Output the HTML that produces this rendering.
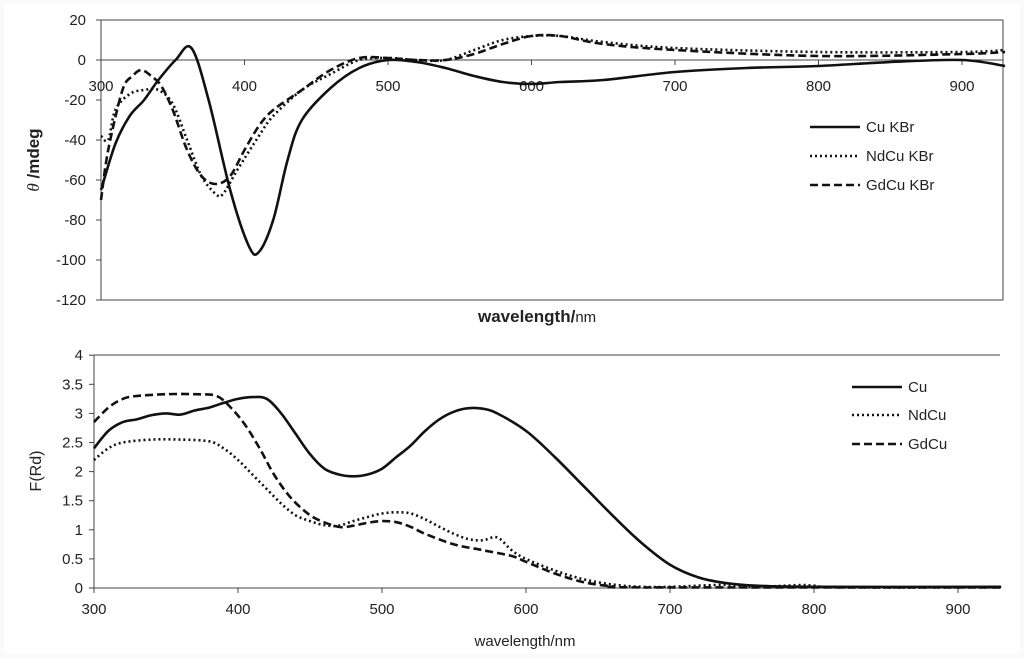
<!DOCTYPE html>
<html><head><meta charset="utf-8"><style>
body{margin:0;background:#fff;}
svg text{font-family:"Liberation Sans",Arial,sans-serif;fill:#222;}
</style></head><body>
<svg id="c" width="1024" height="658" viewBox="0 0 1024 658" xmlns="http://www.w3.org/2000/svg">
<rect x="0" y="0" width="1024" height="658" fill="#fafafa"/>
<rect x="4" y="4" width="1016" height="650" fill="#fff"/>
<g id="top"></g>
<g id="bot"></g>
</svg>
<script>
// ---- Top chart data (CD) ----
const cuX=[300,310,320,330,340,352,363,375,390,403,410,420,430,440,460,480,500,520,540,560,580,600,620,650,700,750,800,850,900,930];
const cuY=[-65,-42,-28,-20,-10,0,6,-20,-65,-93,-96,-80,-50,-30,-14,-4,0,-1,-4,-8,-11,-12,-11,-10,-6,-4,-3,-1,0,-3];
const ndX=[300,305,310,320,330,340,350,360,370,380,385,395,410,420,440,460,480,500,520,540,560,580,600,620,650,700,800,900,930];
const ndY=[-38,-40,-25,-17,-15,-15,-22,-40,-58,-67,-67,-55,-38,-28,-15,-7,0,1,0,0,5,10,12,12,9,6,4,4,5];
const gdX=[300,305,315,322,328,335,342,350,360,370,380,390,400,410,420,440,460,480,500,520,540,560,580,600,620,650,700,800,900,930];
const gdY=[-70,-45,-15,-8,-5,-8,-13,-25,-45,-58,-62,-58,-45,-33,-25,-15,-5,1,1,0,0,3,8,12,12,8,5,2,3,4];
const topYTicks=[20,0,-20,-40,-60,-80,-100,-120];
const topXTicks=[300,400,500,600,700,800,900];
// ---- Bottom chart data (F(Rd)) ----
const bCuX=[300,310,320,330,340,350,360,370,380,390,400,410,420,430,440,450,460,470,480,490,500,510,520,530,540,550,560,570,580,600,620,640,660,680,700,720,740,760,800,930];
const bCuY=[2.4,2.7,2.85,2.9,2.97,3.0,2.98,3.05,3.1,3.18,3.25,3.28,3.25,3.0,2.65,2.3,2.05,1.95,1.92,1.95,2.05,2.25,2.45,2.7,2.9,3.03,3.09,3.08,3.0,2.7,2.25,1.75,1.25,0.78,0.4,0.18,0.08,0.04,0.02,0.02];
const bNdX=[300,310,320,340,360,380,390,400,410,420,430,440,450,460,470,480,490,500,510,520,530,540,550,560,570,580,590,600,620,640,660,680,700,730,740,760,790,800,820,930];
const bNdY=[2.2,2.4,2.5,2.55,2.55,2.52,2.4,2.2,1.95,1.7,1.45,1.25,1.15,1.08,1.07,1.15,1.22,1.28,1.3,1.28,1.18,1.05,0.93,0.84,0.82,0.87,0.65,0.5,0.3,0.15,0.06,0.02,0.02,0.05,0.05,0.02,0.05,0.04,0.01,0.01];
const bGdX=[300,310,320,330,350,370,385,395,405,415,425,435,445,455,470,480,490,500,510,520,530,550,570,590,600,620,640,660,680,930];
const bGdY=[2.85,3.1,3.25,3.3,3.33,3.33,3.3,3.1,2.8,2.4,1.95,1.6,1.35,1.18,1.05,1.07,1.12,1.15,1.13,1.05,0.93,0.75,0.65,0.55,0.45,0.25,0.1,0.03,0.01,0.01];
const botYTicks=[0,0.5,1,1.5,2,2.5,3,3.5,4];
const botYLabels=["0","0.5","1","1.5","2","2.5","3","3.5","4"];
const botXTicks=[300,400,500,600,700,800,900];

const NS="http://www.w3.org/2000/svg";
function mk(parent,tag,attrs,text){const e=document.createElementNS(NS,tag);for(const k in attrs)e.setAttribute(k,attrs[k]);if(text!==undefined)e.textContent=text;parent.appendChild(e);return e;}
function smooth(pts){let d="M"+pts[0][0].toFixed(1)+","+pts[0][1].toFixed(1);
 for(let i=0;i<pts.length-1;i++){const p0=pts[i-1]||pts[i],p1=pts[i],p2=pts[i+1],p3=pts[i+2]||p2;
  const c1=[p1[0]+(p2[0]-p0[0])/6,p1[1]+(p2[1]-p0[1])/6],c2=[p2[0]-(p3[0]-p1[0])/6,p2[1]-(p3[1]-p1[1])/6];
  d+=" C"+c1[0].toFixed(1)+","+c1[1].toFixed(1)+" "+c2[0].toFixed(1)+","+c2[1].toFixed(1)+" "+p2[0].toFixed(1)+","+p2[1].toFixed(1);}
 return d;}
const styles={solid:{w:2.6,dash:""},dot:{w:2.6,dash:"2 3"},dash:{w:2.6,dash:"8 4"}};

// Top axes
const T=document.getElementById('top');
const tx=v=>101+(v-300)*1.435, ty=v=>60-v*2;
mk(T,'rect',{x:101,y:20,width:902,height:280,fill:'none',stroke:'#444','stroke-width':1});
let e=mk(T,'line',{x1:101,y1:60,x2:1003,y2:60,stroke:'#444','stroke-width':1});

topYTicks.forEach(v=>{mk(T,'line',{x1:96,y1:ty(v),x2:101,y2:ty(v),stroke:'#444'});
 const t=mk(T,'text',{x:86,y:ty(v)+5,'text-anchor':'end','font-size':15},String(v));
 });
topXTicks.forEach(v=>{mk(T,'line',{x1:tx(v),y1:60,x2:tx(v),y2:65,stroke:'#444'});
 const t=mk(T,'text',{x:tx(v),y:91,'text-anchor':'middle','font-size':15},String(v));
 });
e=mk(T,'text',{x:478,y:322,'font-size':17,'font-weight':'bold'},'wavelength/');

mk(e,'tspan',{'font-weight':'normal','font-size':15},'nm');
e=mk(T,'text',{transform:'translate(39,160) rotate(-90)','text-anchor':'middle','font-size':17,'font-weight':'bold'});

mk(e,'tspan',{'font-style':'italic','font-family':'Liberation Serif, serif','font-weight':'normal'},'θ');
mk(e,'tspan',{},' /mdeg');
[[cuX,cuY,'solid','series-cu-kbr'],[ndX,ndY,'dot','series-ndcu-kbr'],[gdX,gdY,'dash','series-gdcu-kbr']].forEach(s=>{
 const st=styles[s[2]];const p=mk(T,'path',{d:smooth(s[0].map((x,i)=>[tx(x),ty(s[1][i])])),fill:'none',stroke:'#111','stroke-width':st.w,'stroke-dasharray':st.dash});
 });
[['Cu KBr','solid',127],['NdCu KBr','dot',156],['GdCu KBr','dash',185]].forEach(l=>{
 const g=mk(T,'g',{});
 const st=styles[l[1]];mk(g,'line',{x1:810,y1:l[2],x2:860,y2:l[2],stroke:'#111','stroke-width':st.w,'stroke-dasharray':st.dash});
 mk(g,'text',{x:866,y:l[2]+5,'font-size':15},l[0]);});

// Bottom axes
const B=document.getElementById('bot');
const bx=v=>94+(v-300)*1.44, by=v=>588-v*58.2;
mk(B,'line',{x1:94,y1:355,x2:1000,y2:355,stroke:'#444'});
mk(B,'line',{x1:94,y1:355,x2:94,y2:588,stroke:'#444'});
mk(B,'line',{x1:94,y1:588,x2:1000,y2:588,stroke:'#444'});
botYTicks.forEach((v,i)=>{mk(B,'line',{x1:89,y1:by(v),x2:94,y2:by(v),stroke:'#444'});
 const t=mk(B,'text',{x:83,y:by(v)+5,'text-anchor':'end','font-size':15},botYLabels[i]);
 });
botXTicks.forEach(v=>{mk(B,'line',{x1:bx(v),y1:588,x2:bx(v),y2:593,stroke:'#444'});
 const t=mk(B,'text',{x:bx(v),y:614,'text-anchor':'middle','font-size':15},String(v));
 });
e=mk(B,'text',{x:525,y:646,'text-anchor':'middle','font-size':15},'wavelength/nm');

e=mk(B,'text',{transform:'translate(41,471) rotate(-90)','text-anchor':'middle','font-size':16},'F(Rd)');

[[bCuX,bCuY,'solid','series-cu'],[bNdX,bNdY,'dot','series-ndcu'],[bGdX,bGdY,'dash','series-gdcu']].forEach(s=>{
 const st=styles[s[2]];const p=mk(B,'path',{d:smooth(s[0].map((x,i)=>[bx(x),by(s[1][i])])),fill:'none',stroke:'#111','stroke-width':st.w,'stroke-dasharray':st.dash});
 });
[['Cu','solid',387],['NdCu','dot',415],['GdCu','dash',444]].forEach(l=>{
 const g=mk(B,'g',{});
 const st=styles[l[1]];mk(g,'line',{x1:852,y1:l[2],x2:902,y2:l[2],stroke:'#111','stroke-width':st.w,'stroke-dasharray':st.dash});
 mk(g,'text',{x:908,y:l[2]+5,'font-size':15},l[0]);});
</script>
</body></html>
